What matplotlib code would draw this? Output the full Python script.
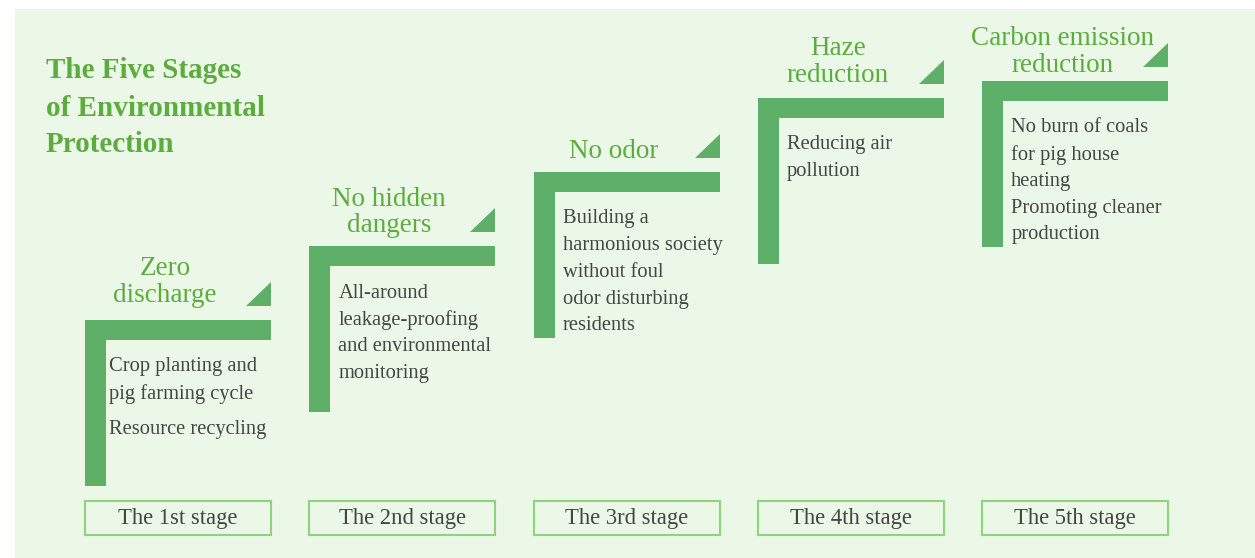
import matplotlib
matplotlib.use("Agg")
import matplotlib.pyplot as plt
from matplotlib.patches import Rectangle, Polygon

# ---- data ----
stage_labels = ["The 1st stage", "The 2nd stage", "The 3rd stage", "The 4th stage", "The 5th stage"]
stage_titles = [["Zero", "discharge"], ["No hidden", "dangers"], ["No odor"],
                ["Haze", "reduction"], ["Carbon emission", "reduction"]]
stage_descriptions = [
    [["Crop planting and", "pig farming cycle"], ["Resource recycling"]],
    [["All-around", "leakage-proofing", "and environmental", "monitoring"]],
    [["Building a", "harmonious society", "without foul", "odor disturbing", "residents"]],
    [["Reducing air", "pollution"]],
    [["No burn of coals", "for pig house", "heating"], ["Promoting cleaner", "production"]],
]
# step level of each stage (height above the baseline of the diagram)
stage_levels = [238, 312, 386, 460, 477]
main_title = ["The Five Stages", "of Environmental", "Protection"]

# ---- style ----
W, H = 1255, 558
BG = "#EBF8E7"
BAR = "#5EAF67"
TITLE_GREEN = "#5CAD3E"
TXT = "#454545"
BOX_EDGE = "#8ED47D"
SERIF = ["Liberation Serif", "DejaVu Serif"]
title_gaps = [25, 20, 20, 23, 16]

fig = plt.figure(figsize=(W / 100, H / 100), dpi=100)
ax = fig.add_axes([0, 0, 1, 1])
ax.set_xlim(0, W)
ax.set_ylim(H, 0)
ax.axis("off")
fig.patch.set_facecolor("white")

ax.add_patch(Rectangle((15, 9), W - 15, H - 9, facecolor=BG, edgecolor="none", zorder=0))

# main title
for k, line in enumerate(main_title):
    ax.text(46, 71 + k * 37, line, fontsize=21, fontweight="bold", color=TITLE_GREEN,
            family=SERIF, va="center", ha="left")

x_start, x_step = 85, 224.3
bar_w = 186
thick = 20
base_y = 558
for i in range(len(stage_labels)):
    x0 = x_start + i * x_step
    top = base_y - stage_levels[i]
    bottom = top + 166
    # L-shaped bracket
    ax.add_patch(Rectangle((x0, top), bar_w, thick, facecolor=BAR, edgecolor="none", zorder=2))
    ax.add_patch(Rectangle((x0, top), thick + 1, bottom - top, facecolor=BAR, edgecolor="none", zorder=2))
    # triangle
    tr_r = x0 + bar_w
    tr_b = top - 14
    ax.add_patch(Polygon([(tr_r - 25, tr_b), (tr_r, tr_b), (tr_r, tr_b - 24)], closed=True,
                         facecolor=BAR, edgecolor="none", zorder=2))
    # stage title
    tl = stage_titles[i]
    n = len(tl)
    for k, line in enumerate(tl):
        yc = top - title_gaps[i] - (n - 1 - k) * 26.5
        ax.text(x0 + 80, yc, line, fontsize=19.5, color=TITLE_GREEN, family=SERIF,
                ha="center", va="center")
    # description
    y = top + 47
    for p, para in enumerate(stage_descriptions[i]):
        if p > 0:
            y += 9 if i == 0 else 0
        for line in para:
            ax.text(x0 + 24 if i == 0 else x0 + 29, y, line, fontsize=14.8, color=TXT,
                    family=SERIF, ha="left", va="center")
            y += 26.7
    # bottom box
    ax.add_patch(Rectangle((x0, 500.5), bar_w, 34, facecolor="none", edgecolor=BOX_EDGE,
                           linewidth=1.5, zorder=2))
    ax.text(x0 + bar_w / 2, 518.5, stage_labels[i], fontsize=16.3, color=TXT, family=SERIF,
            ha="center", va="center")

fig.savefig("out.png", dpi=100, facecolor="white")
